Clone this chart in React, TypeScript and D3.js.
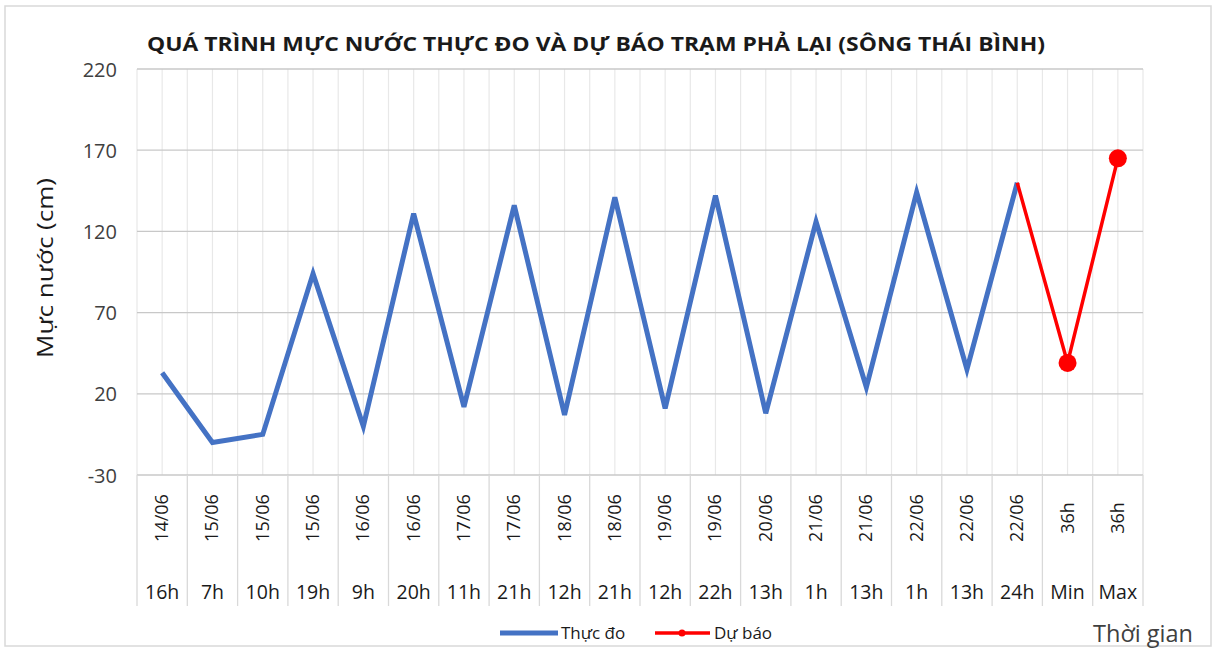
import * as d3 from 'd3'

const dates = ['14/06', '15/06', '15/06', '15/06', '16/06', '16/06', '17/06', '17/06', '18/06', '18/06',
  '19/06', '19/06', '20/06', '21/06', '21/06', '22/06', '22/06', '22/06', '36h', '36h']
const hours = ['16h', '7h', '10h', '19h', '9h', '20h', '11h', '21h', '12h', '21h',
  '12h', '22h', '13h', '1h', '13h', '1h', '13h', '24h', 'Min', 'Max']

// measured levels (cm), one per category up to 22/06 24h
const observed = [33, -10, -5, 94, 0, 131, 12, 136, 7, 141, 11, 142, 8, 126, 24, 144, 35, 150]
// forecast starts from the last measured point
const forecastIdx = [17, 18, 19]
const forecast = [150, 39, 165]

const yTicks = [-30, 20, 70, 120, 170, 220]

const W = 1217, H = 651
const left = 137, right = 1143, top = 69, bottom = 475

const font = "'Open Sans', 'Noto Sans', sans-serif"

export default function App() {
  const x = d3.scaleBand<number>()
    .domain(d3.range(dates.length))
    .range([left, right])
  const bw = x.bandwidth()
  const cx = (i: number) => (x(i) as number) + bw / 2

  const y = d3.scaleLinear()
    .domain([-30, 220])
    .range([bottom, top])

  const obsLine = d3.line<number>()
    .x((d, i) => cx(i))
    .y(d => y(d))
  const fcLine = d3.line<number>()
    .x((d, i) => cx(forecastIdx[i]))
    .y(d => y(d))

  // vertical grid on category edges and centres
  const vGrid = d3.range(dates.length * 2 + 1).map(k => left + k * bw / 2)

  return (
    <svg width={W} height={H} style={{ position: 'absolute', left: 0, top: 0, background: '#fff' }}>
      <rect x={5} y={6} width={1206} height={640} fill='#fff' stroke='#d9d9d9' strokeWidth={1.5} />

      <text x={596} y={51} textAnchor='middle' fontFamily={font} fontWeight='bold' fontSize={20}
        textLength={898} lengthAdjust='spacingAndGlyphs' fill='#1a1a1a'>
        QUÁ TRÌNH MỰC NƯỚC THỰC ĐO VÀ DỰ BÁO TRẠM PHẢ LẠI (SÔNG THÁI BÌNH)
      </text>

      <g className='grid'>
        {vGrid.map((gx, i) =>
          <line key={'v' + i} x1={gx} x2={gx} y1={top} y2={bottom} stroke='#e8e8e8' strokeWidth={1.2} />
        )}
        {yTicks.map(t =>
          <line key={'h' + t} x1={left} x2={right} y1={y(t)} y2={y(t)} stroke='#c8c8c8' strokeWidth={1.3} />
        )}
      </g>

      <g className='y-axis'>
        {yTicks.map(t =>
          <text key={t} x={117} y={y(t) + 7.5} textAnchor='end' fontFamily={font} fontSize={20} fill='#404040'>{t}</text>
        )}
        <text transform={`translate(53, ${(top + bottom) / 2 - 4}) rotate(-90)`} textAnchor='middle'
          fontFamily={font} fontSize={21} textLength={180} lengthAdjust='spacingAndGlyphs'
          fill='#1a1a1a'>Mực nước (cm)</text>
      </g>

      <g className='x-axis'>
        {d3.range(dates.length + 1).map(i =>
          <line key={i} x1={left + i * bw} x2={left + i * bw} y1={bottom} y2={606} stroke='#d9d9d9' strokeWidth={1.3} />
        )}
        {dates.map((d, i) =>
          <text key={'d' + i} transform={`translate(${cx(i) + 6}, 518) rotate(-90)`} textAnchor='middle'
            fontFamily={font} fontSize={18} fill='#1a1a1a'>{d}</text>
        )}
        {hours.map((h, i) =>
          <text key={'h' + i} x={cx(i)} y={599} textAnchor='middle' fontFamily={font} fontSize={19.5} fill='#1a1a1a'>{h}</text>
        )}
      </g>

      <path d={obsLine(observed) ?? ''} fill='none' stroke='#4472C4' strokeWidth={5} strokeLinejoin='miter' />
      <path d={fcLine(forecast) ?? ''} fill='none' stroke='#FF0000' strokeWidth={3.5} />
      {forecast.slice(1).map((v, i) =>
        <circle key={i} cx={cx(forecastIdx[i + 1])} cy={y(v)} r={9} fill='#FF0000' />
      )}

      <g className='legend' fontFamily={font} fontSize={17} fill='#1a1a1a'>
        <line x1={500} x2={558} y1={633} y2={633} stroke='#4472C4' strokeWidth={5} />
        <text x={561} y={639}>Thực đo</text>
        <line x1={655} x2={710} y1={633} y2={633} stroke='#FF0000' strokeWidth={3.5} />
        <circle cx={682} cy={633} r={3.5} fill='#FF0000' />
        <text x={714} y={639}>Dự báo</text>
      </g>

      <text x={1093} y={642} fontFamily={font} fontSize={23} textLength={100} lengthAdjust='spacingAndGlyphs'
        fill='#404040'>Thời gian</text>
    </svg>
  )
}
